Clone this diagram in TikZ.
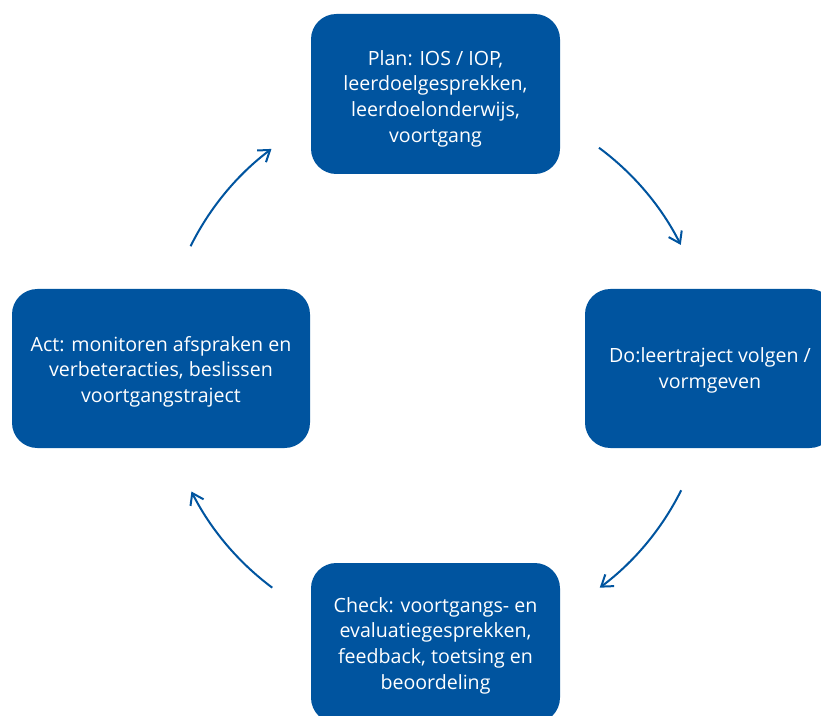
\documentclass[tikz,border=0pt]{standalone}
\usepackage{fontspec}
\setmainfont{Open Sans}
\usetikzlibrary{arrows.meta,calc}
\definecolor{pdcablue}{RGB}{0,84,159}
\tikzset{
  phase/.style={fill=pdcablue, draw=none, rounded corners=19pt, inner sep=0pt},
  phasetext/.style={text=white, align=center, inner sep=0pt, font=\fontsize{14.7}{19.2}\selectfont},
  cycle/.style={draw=pdcablue, line width=1.5pt, -{Straight Barb[length=8pt,width=11pt,line width=1.5pt]}}
}
\begin{document}
\begin{tikzpicture}[x=0.75pt,y=0.75pt]
\useasboundingbox (0,0) rectangle (821,715);
\clip (0,0) rectangle (821,715);
\coordinate (c) at (436,347);
\node[phase, minimum width=249*0.75pt, minimum height=160*0.75pt] (plan) at (435.5,621) {};
\node[phase, minimum width=250*0.75pt, minimum height=159*0.75pt] (do) at (710,346.5) {};
\node[phase, minimum width=249*0.75pt, minimum height=160*0.75pt] (check) at (435.5,72) {};
\node[phase, minimum width=298*0.75pt, minimum height=159*0.75pt] (act) at (161,346.5) {};
\node[phasetext] (planT) at ([yshift=-3.5pt]plan.center)
  {Plan: IOS / IOP,\\leerdoelgesprekken,\\leerdoelonderwijs,\\voortgang};
\node[phasetext] (doT) at ([yshift=-1.5pt]do.center)
  {Do:leertraject volgen /\\vormgeven};
\node[phasetext] (checkT) at ([yshift=-2pt]check.center)
  {Check: voortgangs- en\\evaluatiegesprekken,\\feedback, toetsing en\\beoordeling};
\node[phasetext] (actT) at ([yshift=-2.5pt]act.center)
  {Act: monitoren afspraken en\\verbeteracties, beslissen\\voortgangstraject};
\coordinate (s1) at ($(c)+(53.5:205.5pt)$);
\coordinate (s2) at ($(c)+(-26.5:205.5pt)$);
\coordinate (s3) at ($(c)+(-126.7:205.5pt)$);
\coordinate (s4) at ($(c)+(153.6:205.5pt)$);
\draw[cycle] (s1) arc[start angle=53.5, end angle=26.7, radius=205.5pt];
\draw[cycle] (s2) arc[start angle=-26.5, end angle=-53.3, radius=205.5pt];
\draw[cycle] (s3) arc[start angle=-126.7, end angle=-153.2, radius=205.5pt];
\draw[cycle] (s4) arc[start angle=153.6, end angle=126.9, radius=205.5pt];
\end{tikzpicture}
\end{document}
